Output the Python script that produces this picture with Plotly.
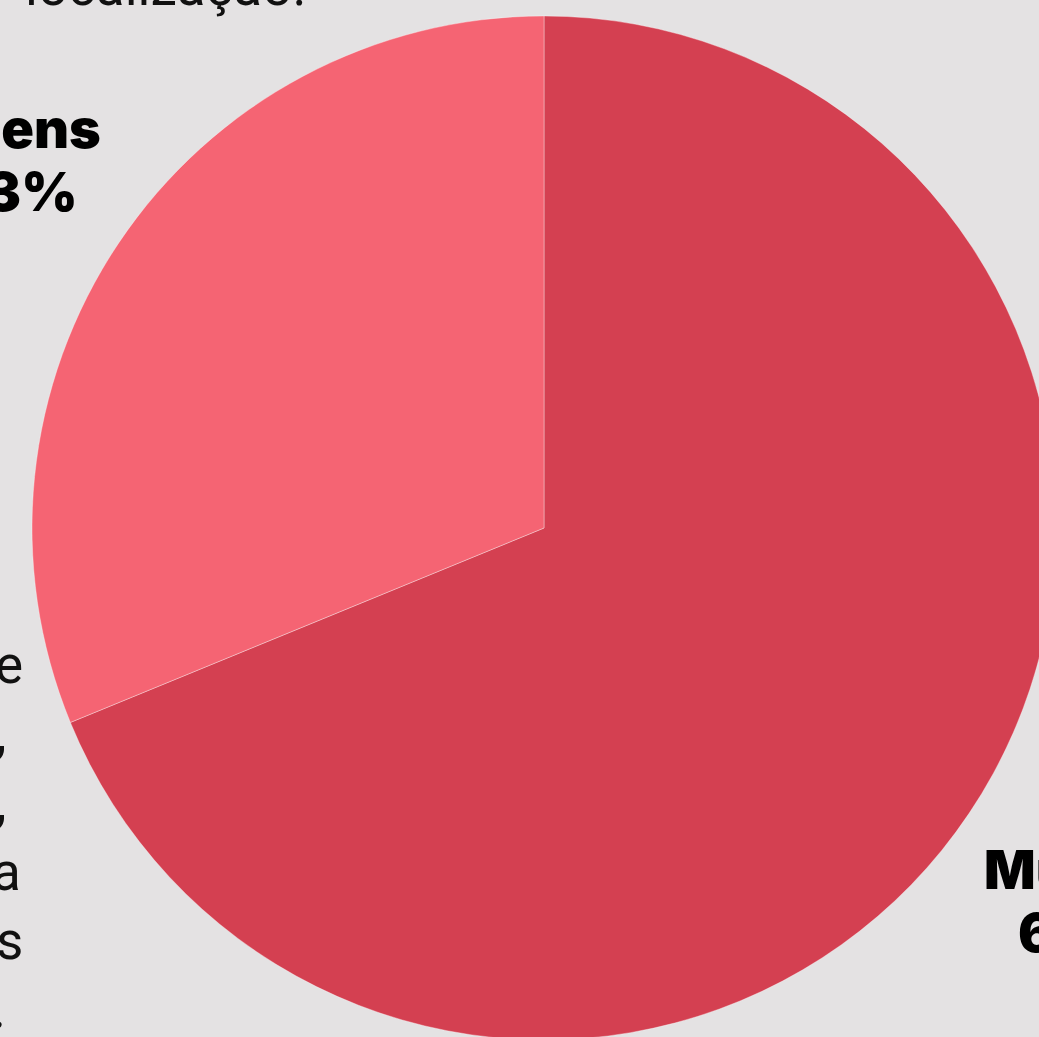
import plotly.graph_objects as go

# Data (order: Mulheres first so that it runs clockwise from 12 o'clock)
labels = ["Mulheres", "Homens"]
values = [68.8, 31.2]
label_text = {"Homens": "33%", "Mulheres": "67%"}
colors = ["#D44051", "#F56473"]
title_text = "localização."
para_ends = ["e", ",", ",", "a", "s", "."]

BG = "#E4E2E3"
W, H = 1056, 1040
ML, MT = 32, 16
PW = W - ML  # plot width 1024
PH = H - MT  # plot height 1024


def px(x):
    return (x - ML) / PW


def py(y):
    return (H - y) / PH


fig = go.Figure(
    go.Pie(
        labels=labels,
        values=values,
        marker=dict(colors=colors, line=dict(color="rgba(255,255,255,0.35)", width=1)),
        sort=False,
        direction="clockwise",
        rotation=0,
        textinfo="none",
        hoverinfo="label+value",
        showlegend=False,
    )
)

ann = []
REG = dict(family="Roboto, Inter, sans-serif", size=53, color="#111111")
BOLD = dict(family="Inter, Lato, sans-serif", size=54, color="#000000", weight=900)


def baseline_y(b, s):
    return py(b - 0.35 * s)


# title (cut off at top)
ann.append(dict(text=title_text, x=px(308), y=baseline_y(6, 53), xanchor="right",
                yanchor="middle", font=REG))

# paragraph line endings (cut off at left)
para_right = [25, 8, 8, 23, 25, 8]
for i, t in enumerate(para_ends):
    b = 684 + 68.8 * i
    ann.append(dict(text=t, x=px(para_right[i]), y=baseline_y(b, 53), xanchor="right",
                    yanchor="middle", font=REG))

# slice labels
ann.append(dict(text="Homens", x=px(103), y=baseline_y(147, 54), xanchor="right",
                yanchor="middle", font=BOLD))
ann.append(dict(text=label_text["Homens"], x=px(80), y=baseline_y(210, 54), xanchor="right",
                yanchor="middle", font=BOLD))
ann.append(dict(text="Mulheres", x=px(982), y=baseline_y(888, 54), xanchor="left",
                yanchor="middle", font=BOLD))
ann.append(dict(text=label_text["Mulheres"], x=px(1016), y=baseline_y(951, 54), xanchor="left",
                yanchor="middle", font=BOLD))

for a in ann:
    a.update(xref="paper", yref="paper", showarrow=False)

fig.update_layout(
    width=W,
    height=H,
    margin=dict(l=ML, r=0, t=MT, b=0, pad=0),
    paper_bgcolor=BG,
    plot_bgcolor=BG,
    annotations=ann,
)

post = (
    "document.body.style.margin='0';"
    "document.body.style.background='" + BG + "';"
    "document.body.style.overflow='hidden';"
    "document.documentElement.style.overflow='hidden';"
)
fig.write_html("out.html", config={"displayModeBar": False}, post_script=post)
